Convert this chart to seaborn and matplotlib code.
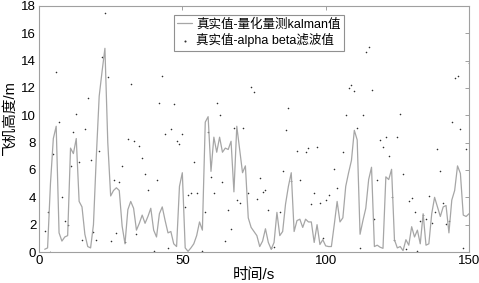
import numpy as np
import pandas as pd
import seaborn as sns
import matplotlib.pyplot as plt

# ---------- DATA ----------

kalman_t = list(range(2, 151))

kalman_v = [
    0.2, 0.3, 5.0, 8.3, 9.2, 1.4, 0.8, 1.1, 1.2, 7.6,
    7.2, 8.3, 3.7, 3.3, 1.3, 0.4, 0.3, 2.0, 7.0, 11.4,
    13.2, 14.9, 8.0, 4.1, 4.5, 4.7, 4.5, 1.9, 0.6, 3.1,
    3.7, 3.2, 1.6, 2.1, 2.7, 2.1, 2.6, 3.2, 1.6, 1.1,
    2.8, 3.3, 2.3, 1.4, 1.5, 0.6, 0.4, 4.8, 5.8, 0.3,
    0.05, 0.3, 0.6, 1.2, 2.2, 1.6, 9.5, 9.9, 5.9, 8.4,
    7.3, 8.4, 7.3, 7.6, 7.5, 8.1, 4.4, 9.2, 7.5, 5.8,
    6.3, 2.5, 1.8, 1.5, 1.2, 0.4, 0.8, 1.7, 0.7, 0.2,
    0.7, 2.9, 1.2, 1.5, 3.5, 4.8, 5.8, 1.5, 2.3, 2.4,
    1.8, 2.4, 2.2, 2.2, 0.7, 2.0, 0.55, 0.9, 0.45, 0.4,
    0.4, 2.0, 3.7, 2.2, 2.5, 4.8, 5.8, 6.7, 8.9, 8.2,
    1.3, 2.3, 3.2, 5.3, 6.2, 0.4, 0.5, 0.35, 0.27, 5.5,
    5.3, 6.05, 0.9, 0.3, 0.4, 0.1, 0.9, 0.5, 1.85, 1.1,
    1.6, 0.6, 2.8, 0.5, 0.6, 2.8, 4.0, 3.3, 2.6, 3.3,
    3.4, 1.4, 3.8, 4.5, 6.3, 5.75, 2.7, 2.6, 2.8
]

alpha_t = [
    2, 3, 4, 5, 6, 7, 8, 9, 10, 11,
    12, 13, 14, 15, 16, 17, 18, 19, 20, 21,
    22, 23, 24, 25, 26, 27, 28, 29, 30, 31,
    32, 33, 34, 35, 36, 37, 38, 40, 41, 42,
    43, 44, 45, 46, 47, 48, 49, 50, 51, 52,
    53, 54, 55, 57, 58, 59, 60, 61, 62, 63,
    64, 65, 66, 67, 68, 69, 70, 71, 73, 74,
    75, 76, 77, 78, 79, 80, 81, 82, 84, 85,
    86, 87, 88, 90, 91, 93, 94, 95, 96, 97,
    98, 99, 100, 101, 103, 104, 106, 107, 108, 109,
    110, 111, 112, 113, 114, 115, 116, 117, 118, 119,
    120, 121, 122, 123, 124, 125, 126, 127, 128, 129,
    130, 131, 132, 133, 134, 135, 136, 137, 138, 139,
    140, 141, 142, 143, 144, 145, 146, 147, 148, 149,
    150
]

alpha_v = [
    1.56, 2.9, 0.0, 7.2, 13.2, 9.5, 4.0, 2.3, 1.95, 6.3,
    8.8, 10.1, 6.6, 0.9, 9.0, 11.3, 6.7, 1.5, 0.9, 7.4,
    14.3, 17.5, 12.8, 0.83, 5.3, 1.4, 5.1, 6.3, 0.7, 8.3,
    12.3, 8.1, 1.3, 7.75, 6.9, 5.7, 4.5, 0.1, 5.3, 10.9,
    12.9, 8.6, 0.27, 9.0, 10.8, 8.15, 7.9, 8.6, 3.3, 4.2,
    4.3, 6.6, 4.3, 0.1, 2.9, 8.8, 5.5, 4.3, 10.9, 10.0,
    5.1, 0.83, 3.1, 1.7, 9.1, 3.8, 3.6, 9.1, 4.3, 12.1,
    11.7, 3.85, 5.4, 4.4, 4.5, 3.1, 0.27, 0.4, 2.95, 5.9,
    8.9, 10.5, 5.2, 7.4, 5.3, 7.3, 7.6, 3.5, 4.3, 7.7,
    3.6, 1.0, 3.8, 4.2, 6.05, 4.7, 7.3, 10.0, 12.0, 12.2,
    11.8, 9.1, 0.27, 10.0, 14.6, 15.0, 11.85, 2.4, 5.3, 8.2,
    7.7, 8.4, 7.0, 4.05, 0.9, 8.4, 10.1, 5.7, 0.2, 3.7,
    3.95, 2.9, 0.1, 2.3, 2.7, 2.45, 4.1, 2.15, 2.9, 7.5,
    5.95, 3.56, 2.05, 2.3, 9.5, 12.7, 12.9, 8.97, 0.27, 7.5,
    13.8
]

x_ticks = [0, 50, 100, 150]
y_ticks = list(range(0, 19, 2))

kalman_df = pd.DataFrame({"t": kalman_t, "v": kalman_v})
alpha_df = pd.DataFrame({"t": alpha_t, "v": alpha_v})

# ---------- STYLE ----------

sns.set_style("white")
plt.rcParams["font.family"] = ["Liberation Sans", "Noto Sans CJK SC", "DejaVu Sans"]
plt.rcParams["text.color"] = "black"
plt.rcParams["axes.labelcolor"] = "black"
plt.rcParams["xtick.labelcolor"] = "black"
plt.rcParams["ytick.labelcolor"] = "black"

fig = plt.figure(figsize=(4.79, 2.83), dpi=100)
ax = fig.add_axes([0.0814, 0.1095, 0.8977, 0.8695])

# ---------- PLOT ----------

sns.lineplot(
    data=kalman_df,
    x="t",
    y="v",
    ax=ax,
    color="#a6a6a6",
    linewidth=0.9,
    label="真实值-量化量测kalman值"
)

sns.scatterplot(
    data=alpha_df,
    x="t",
    y="v",
    ax=ax,
    color="#303030",
    s=1.3,
    linewidth=0,
    label="真实值-alpha beta滤波值"
)

ax.set_xlim(0, 150)
ax.set_ylim(0, 18)
ax.set_xticks(x_ticks)
ax.set_yticks(y_ticks)

ax.tick_params(
    direction="in",
    length=3,
    width=0.6,
    color="#909090",
    labelsize=9.5,
    top=True,
    right=True,
    pad=2
)

for spine in ax.spines.values():
    spine.set_color("#a0a0a0")
    spine.set_linewidth(0.8)

ax.set_xlabel("时间/s", fontsize=11, labelpad=1)
ax.set_ylabel("飞机高度/m", fontsize=10.5)
ax.yaxis.set_label_coords(-0.052, 0.545)

leg = ax.legend(
    loc="upper left",
    bbox_to_anchor=(0.314, 0.962),
    fontsize=9,
    frameon=True,
    fancybox=False,
    edgecolor="#909090",
    framealpha=1,
    handlelength=1.2,
    handletextpad=0.3,
    borderpad=0.25,
    labelspacing=0.2,
    borderaxespad=0,
    markerscale=1.3
)
leg.get_frame().set_linewidth(0.8)

plt.savefig("out.png", dpi=100)
